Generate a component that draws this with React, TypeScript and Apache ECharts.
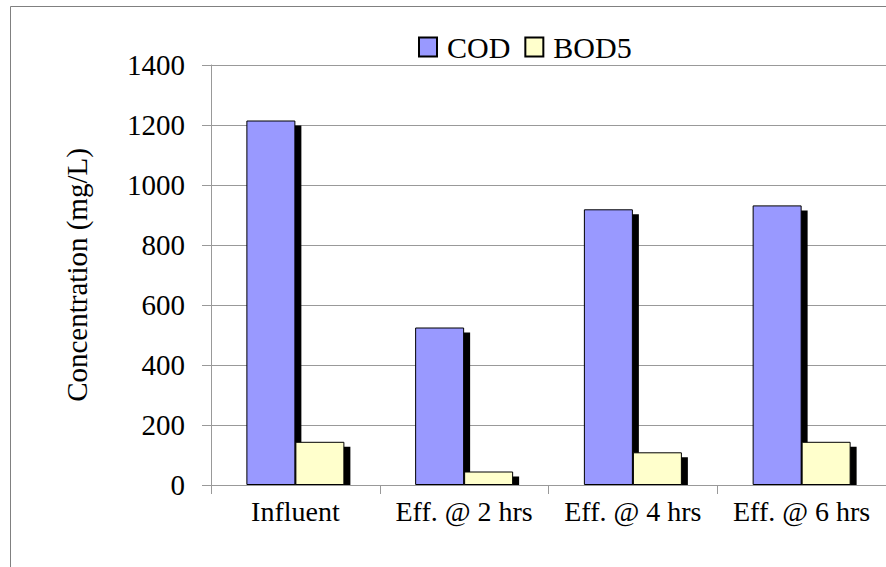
import React, { useEffect, useRef } from "react";
import * as echarts from "echarts";

const categories = ["Influent", "Eff. @ 2 hrs", "Eff. @ 4 hrs", "Eff. @ 6 hrs"];
const codValues = [1215, 525, 919, 932];
const bodValues = [144, 45, 109, 144];
const seriesNames = ["COD", "BOD5"];
const yTicks = { min: 0, max: 1400, interval: 200 };

const FONT = "Liberation Serif";
const BAR_W = 49;

export default function App() {
  const ref = useRef<HTMLDivElement>(null);
  useEffect(() => {
    document.body.style.margin = "0";
    const chart = echarts.init(ref.current!, null, { renderer: "svg" });
    const shadowData = [
      ...codValues.map((v, i) => [i, v, -1]),
      ...bodValues.map((v, i) => [i, v, 0]),
    ];
    chart.setOption({
      animation: false,
      backgroundColor: "#fff",
      textStyle: { fontFamily: FONT, color: "#000" },
      graphic: [
        {
          type: "rect",
          silent: true,
          shape: { x: 10.5, y: 6.5, width: 1000, height: 1000 },
          style: { fill: "none", stroke: "#808080", lineWidth: 1 },
        },
      ],
      legend: {
        data: seriesNames,
        left: 413,
        top: 27,
        icon: "rect",
        itemWidth: 18,
        itemHeight: 19,
        itemGap: 14,
        textStyle: { fontSize: 30, fontFamily: FONT, color: "#000", padding: [0, 0, 0, 5] },
      },
      grid: { left: 211, top: 65, bottom: 82, right: -8, containLabel: false },
      xAxis: {
        type: "category",
        data: categories,
        boundaryGap: true,
        axisLine: { show: true, lineStyle: { color: "#999999", width: 1 } },
        axisTick: { show: true, length: 9, lineStyle: { color: "#999999" } },
        axisLabel: { fontSize: 28, fontFamily: FONT, color: "#000", margin: 12, interval: 0 },
      },
      yAxis: {
        type: "value",
        min: yTicks.min,
        max: yTicks.max,
        interval: yTicks.interval,
        name: "Concentration (mg/L)",
        nameLocation: "middle",
        nameGap: 120,
        nameTextStyle: { fontSize: 29, fontFamily: FONT, color: "#000" },
        axisLine: { show: true, lineStyle: { color: "#999999", width: 1 } },
        axisTick: { show: true, length: 9, lineStyle: { color: "#999999" } },
        axisLabel: {
          fontSize: 29,
          fontFamily: FONT,
          color: "#000",
          margin: 26,
          formatter: (v: number) => String(v),
        },
        splitLine: { show: true, lineStyle: { color: "#999999", width: 1 } },
      },
      series: [
        {
          type: "custom",
          name: "shadow",
          silent: true,
          data: shadowData,
          renderItem: (params: any, api: any) => {
            const idx = api.value(0);
            const val = api.value(1);
            const off = api.value(2);
            const top = api.coord([idx, val]);
            const base = api.coord([idx, 0]);
            const h = base[1] - top[1] - 5;
            return {
              type: "rect",
              shape: { x: top[0] + off * BAR_W + 6, y: top[1] + 5, width: BAR_W, height: Math.max(h, 0) },
              style: { fill: "#000" },
            };
          },
        },
        {
          type: "bar",
          name: "COD",
          data: codValues,
          barWidth: BAR_W,
          barGap: "0%",
          itemStyle: { color: "#9999FF", borderColor: "#000", borderWidth: 1 },
        },
        {
          type: "bar",
          name: "BOD5",
          data: bodValues,
          barWidth: BAR_W,
          barGap: "0%",
          itemStyle: { color: "#FFFFCC", borderColor: "#000", borderWidth: 1 },
        },
      ],
    });
    return () => chart.dispose();
  }, []);
  return <div ref={ref} style={{ width: 886, height: 567 }} />;
}
